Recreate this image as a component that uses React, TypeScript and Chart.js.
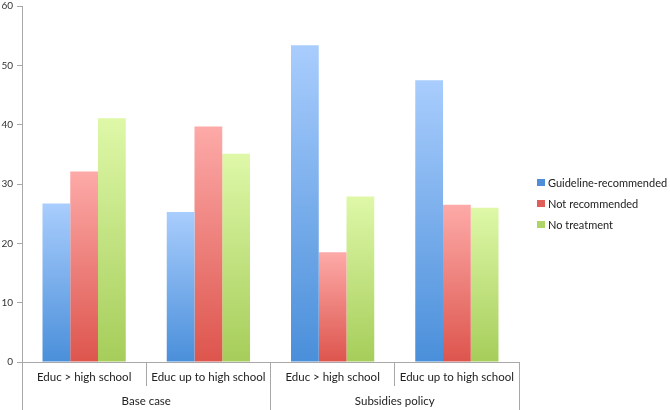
import React, { useEffect, useRef } from "react";
import { Chart, registerables } from "chart.js";

Chart.register(...registerables);

const categories = ["Educ > high school", "Educ up to high school", "Educ > high school", "Educ up to high school"];
const groups = ["Base case", "Subsidies policy"];
const seriesNames = ["Guideline-recommended", "Not recommended", "No treatment"];
const guideline = [26.7, 25.3, 53.4, 47.5];
const notRecommended = [32.1, 39.7, 18.5, 26.5];
const noTreatment = [41.1, 35.1, 27.9, 26.0];
const yTicks = [0, 10, 20, 30, 40, 50, 60];

const FONT = "Lato";
const AXIS = "#a8a8a8";

const palette = [
  { top: "#a9cdfd", bottom: "#4a8fda", solid: "#4f8fd9" },
  { top: "#fdaaa8", bottom: "#dd554d", solid: "#df5f58" },
  { top: "#def8a8", bottom: "#a6cd5a", solid: "#add567" },
];

function gradientFor(idx: number) {
  return (ctx: any) => {
    const chart = ctx.chart;
    const p = palette[idx];
    if (!chart.chartArea || ctx.type !== "data" || !chart.scales.y) return p.bottom;
    const v = ctx.parsed ? ctx.parsed.y : ctx.raw;
    const top = chart.scales.y.getPixelForValue(v);
    const base = chart.scales.y.getPixelForValue(0);
    if (!isFinite(top) || !isFinite(base) || top === base) return p.bottom;
    const g = chart.ctx.createLinearGradient(0, top, 0, base);
    g.addColorStop(0, p.top);
    g.addColorStop(1, p.bottom);
    return g;
  };
}

const legendPlugin = {
  id: "sideLegend",
  afterDraw(chart: any) {
    const { ctx, chartArea } = chart;
    const x = chartArea.right + 18;
    const spacing = 21;
    const n = chart.data.datasets.length;
    const cy = 203.5;
    ctx.save();
    ctx.font = `11px ${FONT}`;
    ctx.textBaseline = "middle";
    ctx.textAlign = "left";
    chart.data.datasets.forEach((ds: any, i: number) => {
      const y = cy + (i - (n - 1) / 2) * spacing;
      ctx.fillStyle = palette[i].solid;
      ctx.fillRect(x, y - 3.5, 8, 7);
      ctx.fillStyle = "#222";
      ctx.fillText(ds.label, x + 11, y + 0.5);
    });
    ctx.restore();
  },
};

export default function App() {
  const ref = useRef<HTMLCanvasElement | null>(null);
  useEffect(() => {
    document.body.style.margin = "0";
    const data = [guideline, notRecommended, noTreatment];
    const chart = new Chart(ref.current as HTMLCanvasElement, {
      type: "bar",
      data: {
        labels: categories,
        datasets: seriesNames.map((name, i) => ({
          label: name,
          data: data[i],
          backgroundColor: gradientFor(i),
          borderWidth: 0,
          xAxisID: "x",
          yAxisID: "y",
          categoryPercentage: 0.67,
          barPercentage: 1.0,
        })),
      },
      options: {
        animation: false,
        responsive: false,
        maintainAspectRatio: false,
        layout: { padding: { left: 0, right: 151, top: 0, bottom: 0 } },
        plugins: { legend: { display: false }, tooltip: { enabled: false } },
        scales: {
          x: {
            type: "category",
            position: "bottom",
            offset: true,
            grid: { display: true, drawOnChartArea: false, offset: true, tickLength: 24, color: AXIS, lineWidth: 1 },
            border: { display: true, color: AXIS, width: 1 },
            ticks: { font: { family: FONT, size: 11.5 }, color: "#222", padding: -16, maxRotation: 0, autoSkip: false },
            afterFit: (s: any) => { s.height = 24; },
          },
          x2: {
            type: "category",
            position: "bottom",
            labels: groups,
            offset: true,
            grid: { display: true, drawOnChartArea: false, offset: true, tickLength: 24, color: AXIS, lineWidth: 1 },
            border: { display: false },
            ticks: { font: { family: FONT, size: 11.5 }, color: "#222", padding: -16, maxRotation: 0, autoSkip: false },
            afterFit: (s: any) => { s.height = 24; },
          },
          y: {
            min: 0,
            max: 60,
            afterBuildTicks: (s: any) => { s.ticks = yTicks.map((v) => ({ value: v })); },
            grid: { display: true, drawOnChartArea: false, tickLength: 5, color: AXIS },
            border: { display: true, color: AXIS, width: 1 },
            ticks: { font: { family: FONT, size: 10 }, color: "#333", padding: 4 },
            afterFit: (s: any) => { s.width = 22; s.paddingTop = 6; s.paddingBottom = 0; },
          },
        },
      },
      plugins: [legendPlugin],
    });
    return () => chart.destroy();
  }, []);
  return (
    <div style={{ width: 670, height: 410 }}>
      <canvas ref={ref} width={670} height={410} style={{ width: 670, height: 410, display: "block" }} />
    </div>
  );
}
